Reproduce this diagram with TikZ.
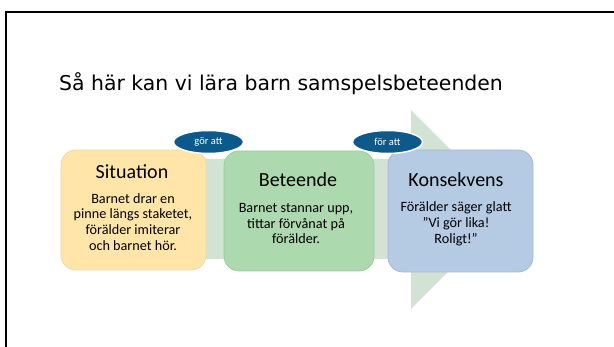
\documentclass[tikz,border=0pt]{standalone}
\usepackage{fontspec}
\setmainfont{Carlito}
\newfontfamily\titlefont{DejaVu Sans}
\usetikzlibrary{shapes.geometric}
\definecolor{arrowc}{HTML}{D2E3D3}
\definecolor{yfill}{HTML}{FFE6A8}
\definecolor{ydraw}{HTML}{EED9A6}
\definecolor{gfill}{HTML}{ACDAAE}
\definecolor{gdraw}{HTML}{9CCB9F}
\definecolor{bfill}{HTML}{B5CAE3}
\definecolor{bdraw}{HTML}{A3B8D2}
\definecolor{ovalc}{HTML}{0B5A8B}
\tikzset{
  stagebox/.style={rounded corners=15pt, line width=0.8pt},
  heading/.style={font=\fontsize{20}{24}\selectfont, anchor=base},
  bodytext/.style={font=\fontsize{14.2}{15.6}\selectfont, align=center, anchor=north},
  oval/.style={ellipse, fill=ovalc, draw=white, line width=1.5pt, minimum width=70pt, minimum height=23pt, inner sep=0pt, text=white, font=\fontsize{10.5}{11}\selectfont}
}
\begin{document}
\begin{tikzpicture}[x=1pt,y=-1pt]
\useasboundingbox (0,0) rectangle (614,347);
\fill[white] (0,0) rectangle (614,347);
\draw[line width=2.2pt] (614,12) -- (6,12) -- (6,347);
\node[anchor=base west, font=\titlefont\fontsize{20.4}{24}\selectfont, inner sep=0pt] (title) at (59,91) {Så här kan vi lära barn samspelsbeteenden};
% big arrow
\fill[arrowc] (80,159) -- (411,159) -- (411,110) -- (510,209.5) -- (411,309) -- (411,259) -- (80,259) -- cycle;
% boxes
\draw[stagebox, fill=yfill, draw=ydraw] (61,150) rectangle (206,270);
\draw[stagebox, fill=gfill, draw=gdraw] (224,151) rectangle (374,271);
\draw[stagebox, fill=bfill, draw=bdraw] (388,150) rectangle (533,272);
% texts
\node[heading] (h1) at (132,179) {Situation};
\node[bodytext] (t1) at (133,190) {Barnet drar en\\pinne längs staketet,\\förälder imiterar\\och barnet hör.};
\node[heading] (h2) at (298,187) {Beteende};
\node[bodytext] (t2) at (296,200) {Barnet stannar upp,\\tittar förvånat på\\förälder.};
\node[heading] (h3) at (456,187) {Konsekvens};
\node[bodytext] (t3) at (456,198.5) {Förälder säger glatt\\”Vi gör lika!\\Roligt!”};
% ovals
\node[oval] (o1) at (208.5,142) {gör att};
\node[oval] (o2) at (387.5,142) {för att};
\end{tikzpicture}
\end{document}
